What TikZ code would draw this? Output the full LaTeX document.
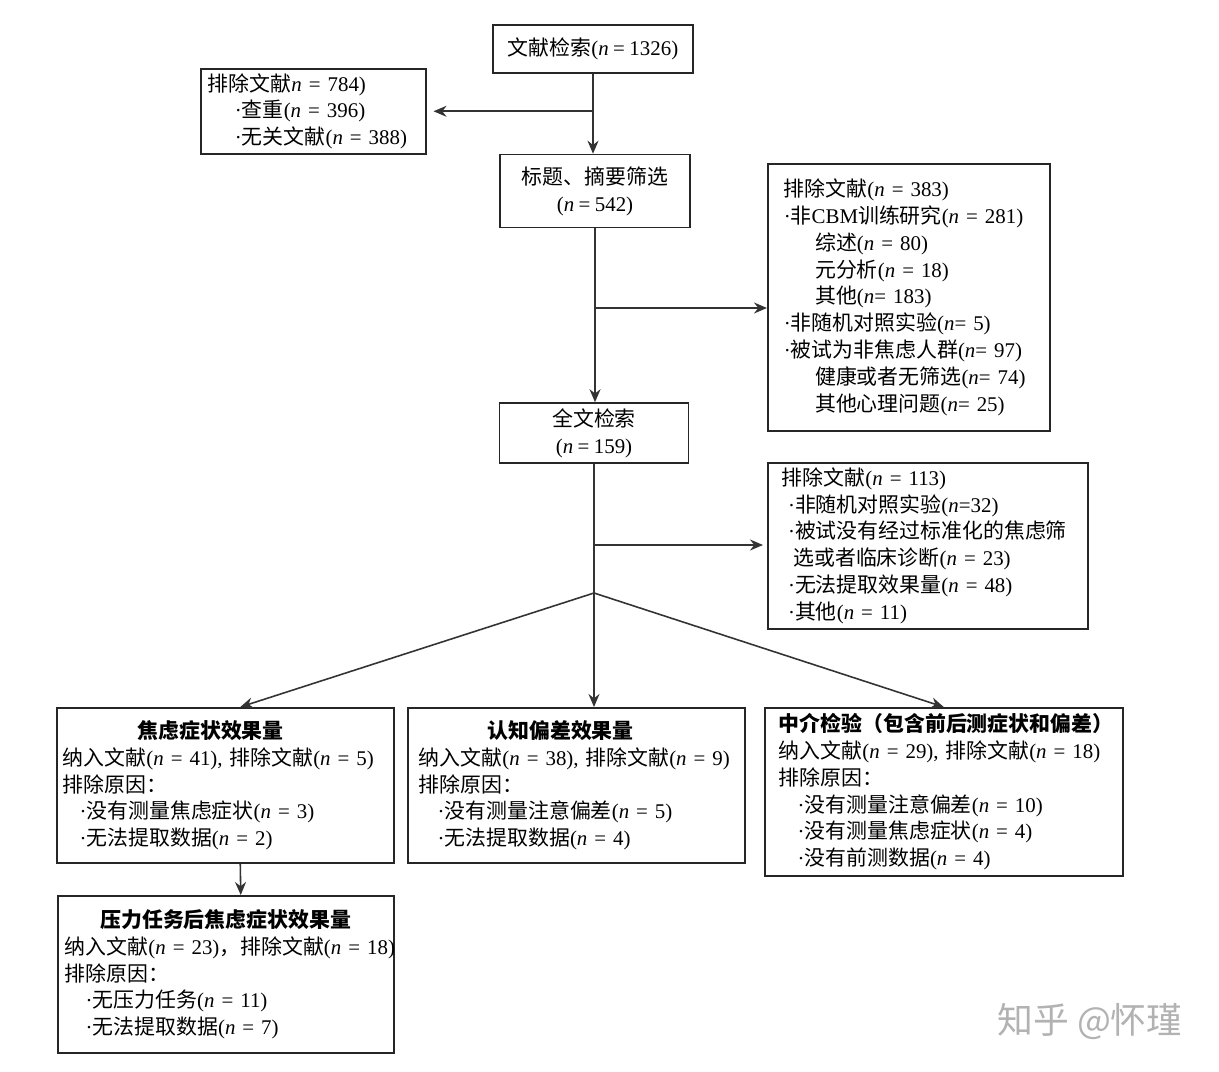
\documentclass[tikz,border=0pt]{standalone}
\usepackage{fontspec}
\setmainfont{Noto Sans CJK SC}
\newfontfamily\latf[WordSpace=0.85]{Liberation Serif}
\usepackage{xcolor}
\usepackage{tikz}
\usetikzlibrary{arrows.meta, calc}
\setlength{\parindent}{0pt}
\newcommand{\ncount}[1]{\mbox{\latf(\textit{n}#1)}}
\newcommand{\bul}{{\latf ·}}

\begin{document}
\begin{tikzpicture}[x=0.02cm, y=-0.02cm,
  stage/.style={rectangle, draw=black!85, line width=0.9pt, fill=white, align=center, inner sep=0pt, font=\fontsize{11.9pt}{15.3pt}\selectfont},
  exbox/.style={rectangle, draw=black!85, line width=0.9pt, fill=white, align=left, anchor=north west, inner ysep=0pt, font=\fontsize{11.9pt}{15.3pt}\selectfont},
  wmark/.style={text=black!30, font=\fontsize{20.4pt}{24pt}\selectfont},
  arrow/.style={-{Stealth[length=2.6mm, width=2.2mm]}, line width=0.9pt, draw=black!80},
  trunk/.style={line width=0.9pt, draw=black!80}
]
\useasboundingbox (0,0) rectangle (1219,1071);
\node[stage, minimum width=4cm, minimum height=0.96cm] (b1) at (593,49) {文献检索\ncount{ = 1326}};
\node[exbox, minimum width=4.5cm, minimum height=1.7cm, inner xsep=0.14cm, text width=4.22cm] (ex1) at (200,68) {排除文献\mbox{\latf\textit{n} = 784)}\\
\hspace*{1.3em}\bul 查重\ncount{ = 396}\\
\hspace*{1.3em}\bul 无关文献\ncount{ = 388}};
\node[stage, minimum width=3.8cm, minimum height=1.46cm] (b2) at (595,191) {标题、摘要筛选\\\ncount{ = 542}};
\node[exbox, minimum width=5.64cm, minimum height=5.34cm, inner xsep=0.32cm, text width=5cm] (ex2) at (767,163) {排除文献\ncount{ = 383}\\
\bul 非{\latf CBM}训练研究\ncount{ = 281}\\
\hspace*{1.5em}综述\ncount{ = 80}\\
\hspace*{1.5em}元分析\ncount{ = 18}\\
\hspace*{1.5em}其他\ncount{= 183}\\
\bul 非随机对照实验\ncount{= 5}\\
\bul 被试为非焦虑人群\ncount{= 97}\\
\hspace*{1.5em}健康或者无筛选\ncount{= 74}\\
\hspace*{1.5em}其他心理问题\ncount{= 25}};
\node[stage, minimum width=3.78cm, minimum height=1.2cm] (b3) at (594,433) {全文检索\\\ncount{ = 159}};
\node[exbox, minimum width=6.4cm, minimum height=3.32cm, inner xsep=0.28cm, text width=5.84cm] (ex3) at (767,462) {排除文献\ncount{ = 113}\\
\hspace*{0.3em}\bul 非随机对照实验\ncount{=32}\\
\hspace*{0.3em}\bul 被试没有经过标准化的焦虑筛\\
\hspace*{0.55em}选或者临床诊断\ncount{ = 23}\\
\hspace*{0.3em}\bul 无法提取效果量\ncount{ = 48}\\
\hspace*{0.3em}\bul 其他\ncount{ = 11}};
\node[exbox, minimum width=6.74cm, minimum height=3.1cm, inner xsep=0.12cm, text width=6.5cm] (c1) at (56,707) {\hspace*{-0.7em}\makebox[\hsize]{\bfseries 焦虑症状效果量}\\
纳入文献\mbox{\latf(\textit{n} = 41), }排除文献\ncount{ = 5}\\
排除原因：\\
\hspace*{0.8em}\bul 没有测量焦虑症状\ncount{ = 3}\\
\hspace*{0.8em}\bul 无法提取数据\ncount{ = 2}};
\node[exbox, minimum width=6.74cm, minimum height=3.1cm, inner xsep=0.22cm, text width=6.3cm] (c2) at (407,707) {\hspace*{-0.75em}\makebox[\hsize]{\bfseries 认知偏差效果量}\\
纳入文献\mbox{\latf(\textit{n} = 38), }排除文献\ncount{ = 9}\\
排除原因：\\
\hspace*{0.9em}\bul 没有测量注意偏差\ncount{ = 5}\\
\hspace*{0.9em}\bul 无法提取数据\ncount{ = 4}};
\node[exbox, minimum width=7.16cm, minimum height=3.36cm, inner xsep=0.28cm, text width=6.6cm] (c3) at (764,707) {{\bfseries 中介检验（包含前后测症状和偏差）}\\
纳入文献\mbox{\latf(\textit{n} = 29), }排除文献\ncount{ = 18}\\
排除原因：\\
\hspace*{0.9em}\bul 没有测量注意偏差\ncount{ = 10}\\
\hspace*{0.9em}\bul 没有测量焦虑症状\ncount{ = 4}\\
\hspace*{0.9em}\bul 没有前测数据\ncount{ = 4}};
\node[exbox, minimum width=6.72cm, minimum height=3.14cm, inner xsep=0.14cm, text width=6.44cm] (d1) at (57,895) {\makebox[\hsize]{\bfseries 压力任务后焦虑症状效果量}\\
纳入文献\ncount{ = 23}，排除文献\ncount{ = 18}\\
排除原因：\\
\hspace*{1em}\bul 无压力任务\ncount{ = 11}\\
\hspace*{1em}\bul 无法提取数据\ncount{ = 7}};
\node[wmark] (wm) at (1090,1022) {知乎 @怀瑾};
\coordinate (j2) at (594,308);
\coordinate (j3) at (594,545);
\coordinate (split) at (594,593);
\draw[arrow] (b1.south) -- (b1.south |- b2.north);
\draw[arrow, shorten >=0.14cm] (b1.south |- ex1.east) -- (ex1.east);
\draw[arrow] (b2.south) -- (b2.south |- b3.north);
\draw[arrow] (j2) -- (ex2.west |- j2);
\draw[arrow, shorten >=0.08cm] (j3) -- (ex3.west |- j3);
\draw[trunk] (b3.south) -- (split);
\draw[arrow] (split) -- ([xshift=0.3cm]c1.north);
\draw[arrow] (split) -- (c2.north -| split);
\draw[arrow] (split) -- (c3.north);
\draw[arrow] ([xshift=0.3cm]c1.south) -- ([xshift=0.3cm]d1.north);
\end{tikzpicture}
\end{document}
